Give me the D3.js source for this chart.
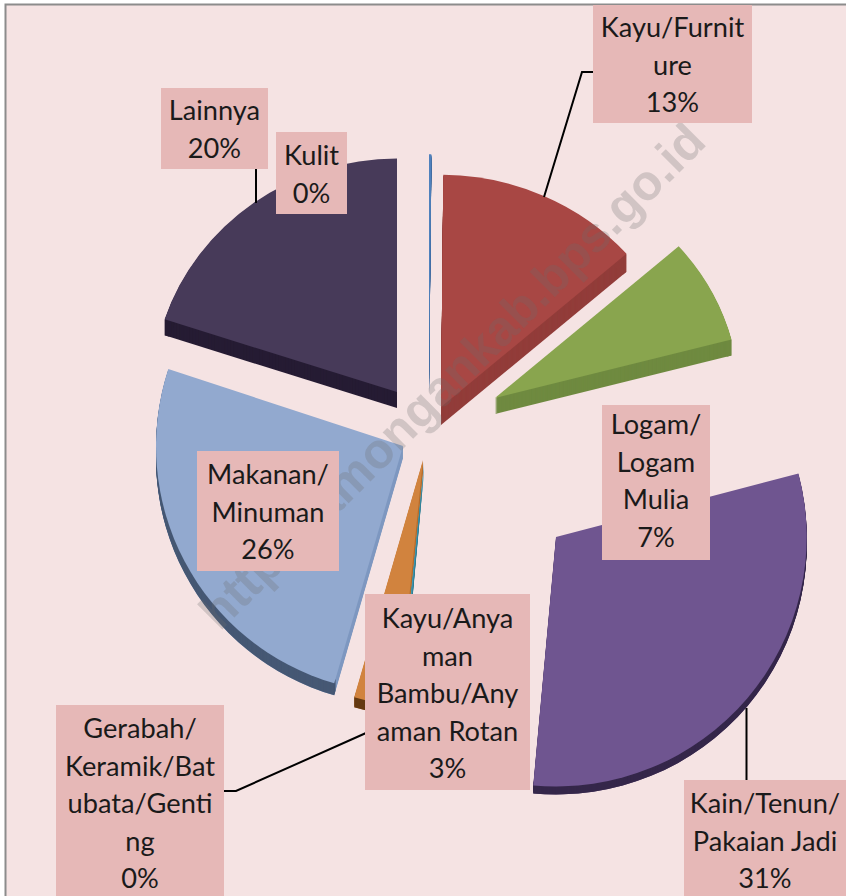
<!DOCTYPE html>
<html>
    <head>
        <meta charset="utf-8">
        <title>Industri</title>
        <script type="text/javascript" src="https://cdn.jsdelivr.net/npm/d3@7"></script>
        <style type="text/css">
            html, body {
                margin: 0;
                padding: 0;
                background: #fff;
            }
            svg {
                display: block;
            }
            text {
                font-family: Lato, "Open Sans", sans-serif;
            }
        </style>
    </head>
    <body>
        <script type="text/javascript">
            // Data, clockwise from 12 o'clock
            var categories = ["Kulit", "Kayu/Furniture", "Logam/Logam Mulia", "Kain/Tenun/Pakaian Jadi",
                              "Gerabah/Keramik/Batubata/Genting", "Kayu/Anyaman Bambu/Anyaman Rotan",
                              "Makanan/Minuman", "Lainnya"];
            var values = [0.15, 13.4, 7.4, 30.6, 0.15, 2.9, 25.6, 20];
            var percentLabels = ["0%", "13%", "7%", "31%", "0%", "3%", "26%", "20%"];
            var wrappedNames = [
                ["Kulit"],
                ["Kayu/Furnit", "ure"],
                ["Logam/", "Logam", "Mulia"],
                ["Kain/Tenun/", "Pakaian Jadi"],
                ["Gerabah/", "Keramik/Bat", "ubata/Genti", "ng"],
                ["Kayu/Anya", "man", "Bambu/Any", "aman Rotan"],
                ["Makanan/", "Minuman"],
                ["Lainnya"]
            ];

            // Styles
            var topColors = ["#4f81bd", "#a84744", "#89a54e", "#6f5590", "#4198af", "#d1833e", "#92a9cf", "#473a59"];
            var wallColors = ["#3f6b9f", "#923d3a", "#6f8a40", "#4e3b66", "#2f7f95", "#b56d2e", "#7f98c0", "#261c33"];
            var rimColors = ["#3f6b9f", "#923d3a", "#6f8a40", "#35274a", "#2f7f95", "#653a12", "#465874", "#261c33"];

            // Layout: exploded apex of each slice, perspective squash, extrusion
            var w = 846;
            var h = 896;
            var radius = 247;
            var apexX = [429, 441, 495, 556, 424, 423, 403, 397];
            var apexY = [379, 407, 398, 537, 462, 460, 446, 392];
            var scaleX = [1, 1, 0.99, 1.015, 1, 1, 1, 0.99];
            var scaleY = [0.91, 0.94, 0.93, 1.01, 1, 1, 1, 0.945];
            var depths = [16, 18, 16, 8, 10, 10, 12, 16];

            // Label boxes: left, top, width, height
            var boxes = [
                [276, 132, 71, 82],
                [593, 5, 159, 118],
                [602, 405, 108, 155],
                [684, 780, 170, 130],
                [56, 705, 168, 200],
                [365, 594, 165, 196],
                [197, 451, 142, 120],
                [161, 88, 107, 81]
            ];
            var textShift = [0, -1, -4, 0, 0, 1, 0, -1];
            var lineHeight = 37.5;

            var leaders = [
                [[593, 72], [582, 72], [544, 197]],
                [[256, 168], [256, 203]],
                [[746.5, 708], [746.5, 781]],
                [[224, 791], [236, 791], [366, 733]]
            ];

            var svg = d3.select("body")
                        .append("svg")
                        .attr("width", w)
                        .attr("height", h);

            // Chart area
            svg.append("rect")
                .attr("x", 5.5)
                .attr("y", 4.5)
                .attr("width", w + 10)
                .attr("height", h + 10)
                .attr("fill", "#f5e3e3")
                .attr("stroke", "#8c8c8c")
                .attr("stroke-width", 2);

            // Slices
            var pie = d3.pie().sort(null).value(function(d){ return d; });
            var arcs = pie(values);

            var arc = d3.arc().innerRadius(0).outerRadius(radius);
            var rim = d3.arc().innerRadius(radius - 5).outerRadius(radius);

            var slices = svg.selectAll("g.slice")
                .data(arcs)
                .enter()
                .append("g")
                .attr("class", "slice");

            slices.each(function(d, i){
                var g = d3.select(this);
                var transformAt = function(off){
                    return "translate(" + apexX[i] + "," + (apexY[i] + off) + ") scale(" + scaleX[i] + "," + scaleY[i] + ")";
                };
                // the extrusion is the same sector stacked downwards
                var offsets = d3.range(depths[i], 0, -1);
                offsets.forEach(function(off){
                    g.append("path")
                        .attr("d", arc(d))
                        .attr("transform", transformAt(off))
                        .attr("fill", wallColors[i]);
                });
                offsets.forEach(function(off){
                    g.append("path")
                        .attr("d", rim(d))
                        .attr("transform", transformAt(off))
                        .attr("fill", rimColors[i]);
                });
                g.append("path")
                    .attr("d", arc(d))
                    .attr("transform", transformAt(0))
                    .attr("fill", topColors[i]);
            });

            // Watermark
            svg.append("text")
                .attr("transform", "translate(220,632) rotate(-45)")
                .attr("font-weight", "bold")
                .attr("font-size", 49.5)
                .style("font-family", "'Liberation Sans', Arial, sans-serif")
                .attr("fill", "#6e6e6e")
                .attr("fill-opacity", 0.26)
                .text("http://lamongankab.bps.go.id");

            // Leader lines
            svg.selectAll("path.leader")
                .data(leaders)
                .enter()
                .append("path")
                .attr("class", "leader")
                .attr("d", d3.line())
                .attr("fill", "none")
                .attr("stroke", "#000")
                .attr("stroke-width", 2);

            // Data labels
            var labels = svg.selectAll("g.label")
                .data(categories)
                .enter()
                .append("g")
                .attr("class", "label");

            labels.append("rect")
                .attr("x", function(d, i){ return boxes[i][0]; })
                .attr("y", function(d, i){ return boxes[i][1]; })
                .attr("width", function(d, i){ return boxes[i][2]; })
                .attr("height", function(d, i){ return boxes[i][3]; })
                .attr("fill", "#e6b8b7");

            labels.each(function(d, i){
                var lines = wrappedNames[i].concat(percentLabels[i]);
                d3.select(this).selectAll("text")
                    .data(lines)
                    .enter()
                    .append("text")
                    .attr("x", boxes[i][0] + Math.min(boxes[i][2], i == 3 ? 162 : 999) / 2)
                    .attr("y", function(t, j){ return boxes[i][1] + 33 + textShift[i] + j * lineHeight; })
                    .attr("text-anchor", "middle")
                    .attr("font-size", 27.2)
                    .attr("fill", "#1a1a1a")
                    .text(function(t){ return t; });
            });
        </script>
    </body>
</html>
